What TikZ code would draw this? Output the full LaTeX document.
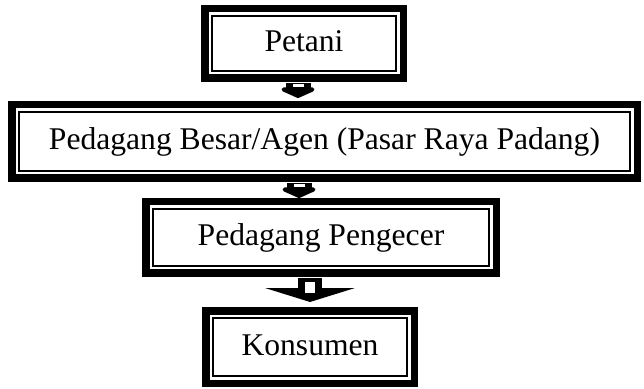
\documentclass[tikz,border=0pt]{standalone}
\usepackage{fontspec}
\setmainfont{Liberation Serif}
\usetikzlibrary{calc}

\tikzset{
  % box with a thick outer rule and a thin inner rule
  flowbox/.style={
    draw, line width=7.5pt, outer sep=0pt, inner sep=0pt,
    font=\fontsize{31.6}{36}\selectfont,
    text height=1.8em, text depth=0.2em,
    path picture={
      \draw[line width=1.8pt]
        ([shift={(7.1pt,-7.1pt)}]path picture bounding box.north west) rectangle
        ([shift={(-7.1pt,7.1pt)}]path picture bounding box.south east);
    }
  },
  % short block arrow between boxes
  pics/smallarrow/.style={code={
    \fill (-12.5,-1) rectangle (12.5,-7);
    \filldraw[line width=4pt, line join=round] (-14.5,-7.5) -- (14.5,-7.5) -- (0,-14) -- cycle;
    \fill[white] (-5.5,-2.2) rectangle (5.5,-5.2);
  }},
  % wide block arrow
  pics/widearrow/.style={code={
    \fill (-12,-1) rectangle (12,-14);
    \fill (-45,-11) -- (45,-11) -- (0,-25) -- cycle;
    \fill[white] (-5,-5) rectangle (5,-16);
  }}
}

\begin{document}
\begin{tikzpicture}[x=1pt,y=1pt]
  \useasboundingbox (0,0) rectangle (644,388);
  \fill[white] (0,0) rectangle (644,388);

  \node[flowbox, minimum width=198.5pt, minimum height=69.5pt] (petani) at (304,344.5) {Petani};
  \node[flowbox, minimum width=625.5pt, minimum height=73.5pt] (besar) at (324.5,246.5) {Pedagang Besar/Agen (Pasar Raya Padang)};
  \node[flowbox, minimum width=350.5pt, minimum height=71.5pt] (pengecer) at (321,150.5) {Pedagang Pengecer};
  \node[flowbox, minimum width=208.5pt, minimum height=72.5pt] (konsumen) at (310,41) {Konsumen};

  % arrows hang from the lower edge of each source box
  \pic at ([xshift=-6pt,yshift=-3.75pt]petani.south) {smallarrow};
  \pic at ([xshift=-25.5pt,yshift=-3.75pt]besar.south) {smallarrow};
  \pic at ([xshift=-11pt,yshift=-3.75pt]pengecer.south) {widearrow};
\end{tikzpicture}
\end{document}
